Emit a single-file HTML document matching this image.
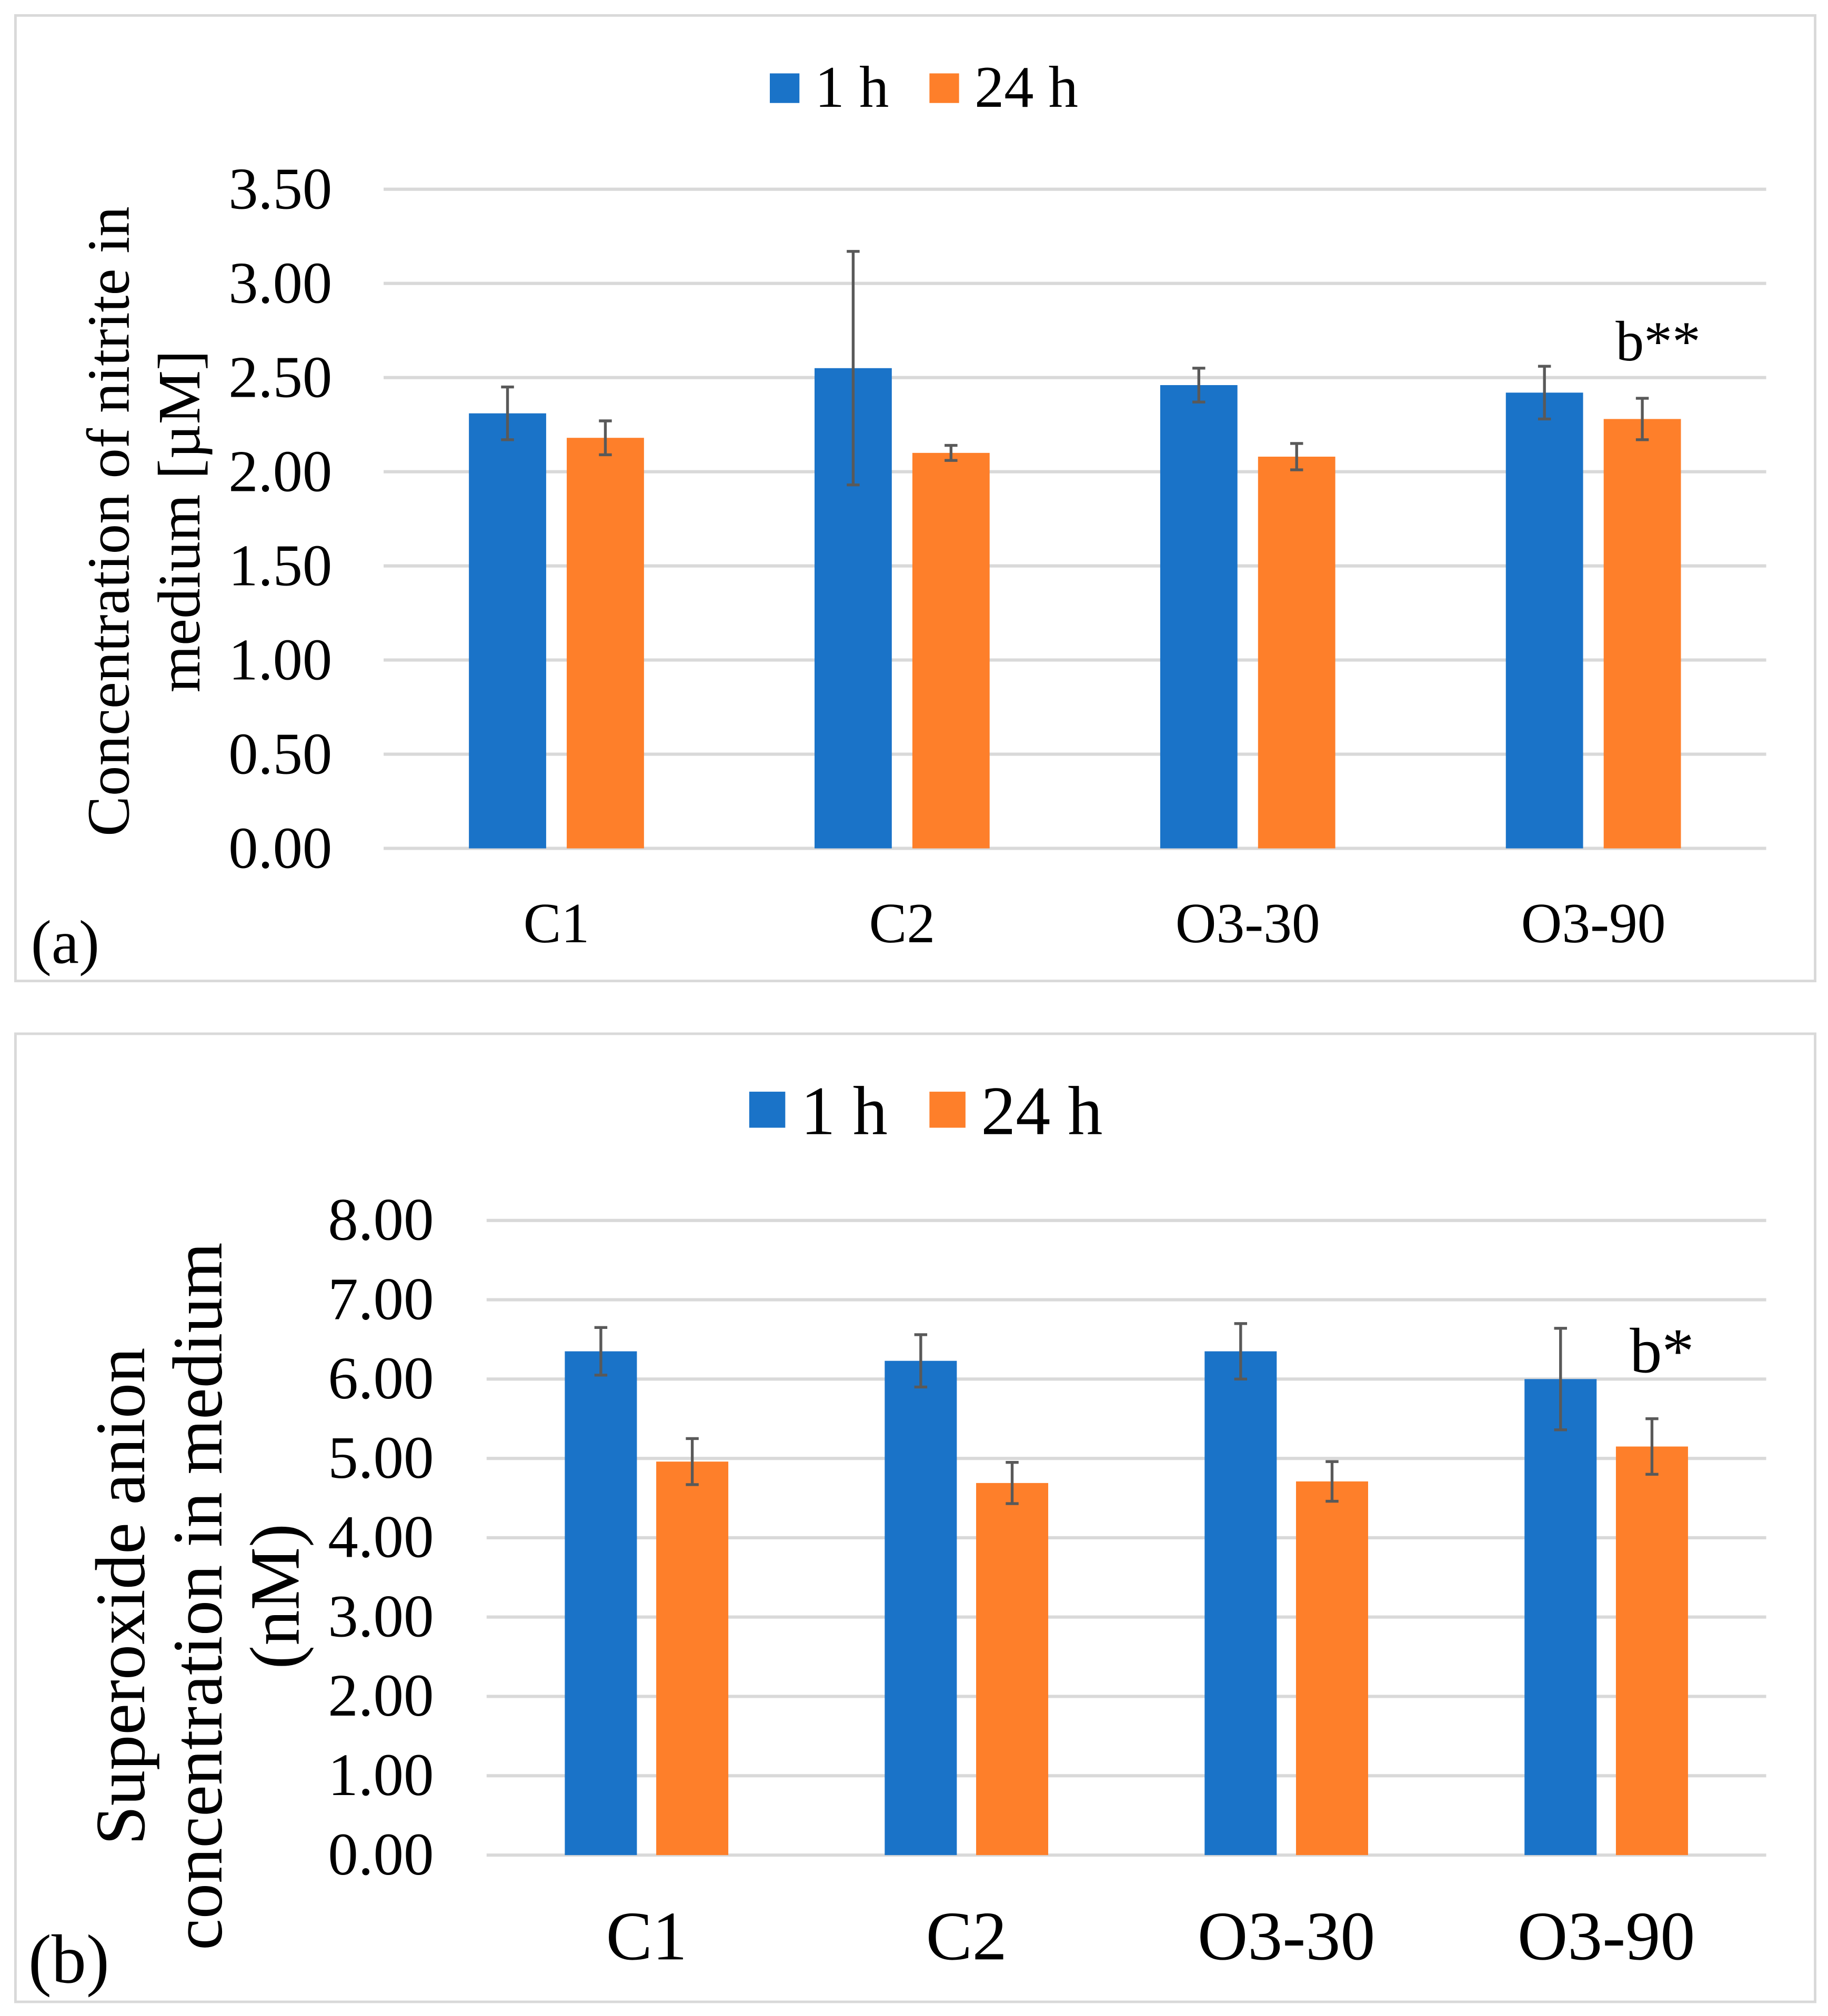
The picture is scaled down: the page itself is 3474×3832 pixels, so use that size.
<!DOCTYPE html>
<html><head><meta charset="utf-8"><style>html,body{margin:0;padding:0;background:#fff}svg{display:block}text{font-family:"Liberation Serif",serif;fill:#000}</style></head>
<body>
<svg id="s" width="3474" height="3832" viewBox="0 0 1420 1566" preserveAspectRatio="none" xmlns="http://www.w3.org/2000/svg"></svg>
<script>
const categories = ["C1","C2","O3-30","O3-90"];
const aTicks = ["0.00","0.50","1.00","1.50","2.00","2.50","3.00","3.50"];
const a1h = [2.31,2.55,2.46,2.42];
const a24h = [2.18,2.10,2.08,2.28];
const a1hErr = [0.14,0.62,0.09,0.14];
const a24hErr = [0.09,0.04,0.07,0.11];
const bTicks = ["0.00","1.00","2.00","3.00","4.00","5.00","6.00","7.00","8.00"];
const b1h = [6.35,6.23,6.35,6.00];
const b24h = [4.96,4.69,4.71,5.15];
const b1hErr = [0.30,0.33,0.35,0.64];
const b24hErr = [0.29,0.26,0.25,0.35];

const svg=document.getElementById('s');
const NS='http://www.w3.org/2000/svg';
function mk(tag,attrs,parent){const e=document.createElementNS(NS,tag);for(const k in attrs)e.setAttribute(k,attrs[k]);(parent||svg).appendChild(e);return e;}
function txt(str,attrs,parent){const e=mk('text',attrs,parent);e.textContent=str;return e;}

function panel(cfg){
  const g=mk('g',{});
  
  
  const fr=mk('rect',{x:cfg.box[0],y:cfg.box[1],width:cfg.box[2],height:cfg.box[3],fill:'#fff',stroke:'#d9d9d9','stroke-width':2},g);
  
  
  const maxV=parseFloat(cfg.ticks[cfg.ticks.length-1]);
  const y=v=>cfg.y0-(v/maxV)*(cfg.y0-cfg.yTop);
  const gw=(cfg.x1-cfg.x0)/categories.length;
  const cx=i=>cfg.x0+gw*(i+0.5);
  cfg.ticks.forEach(t=>{
    const v=parseFloat(t);
    const l=mk('line',{x1:cfg.x0,x2:cfg.x1,y1:y(v),y2:y(v),stroke:'#d9d9d9','stroke-width':2.5},g);
    
    
    const tl=txt(t,{x:cfg.tickX,y:y(v)+15,'text-anchor':'end','font-size':cfg.tickFs},g);
    
    
  });
  const series=[[cfg.s1,cfg.e1,'#1a73c8',-cfg.off],[cfg.s2,cfg.e2,'#fe7f2a',cfg.off]];
  series.forEach((s,si)=>{
    s[0].forEach((v,i)=>{
      const bx=cx(i)+s[3]-cfg.bw/2;
      const r=mk('rect',{x:bx,y:y(v),width:cfg.bw,height:cfg.y0-y(v),fill:s[2]},g);
      
      
      const ex=cx(i)+s[3], hi=y(v+s[1][i]), lo=y(v-s[1][i]);
      const eb=mk('path',{d:`M${ex},${hi}V${lo}M${ex-5},${hi}H${ex+5}M${ex-5},${lo}H${ex+5}`,stroke:'#595959','stroke-width':2.2,fill:'none'},g);
      
      
    });
  });
  categories.forEach((c,i)=>{
    const t=txt(c,{x:cx(i),y:cfg.catY,'text-anchor':'middle','font-size':cfg.catFs},g);
    
    
  });
  const L=cfg.legend;
  const lg=mk('g',{},g);
  
  
  const q1=mk('rect',{x:L.x1,y:L.y,width:L.sq,height:L.sq,fill:'#1a73c8'},lg);
  
  
  const t1=txt('1 h',{x:L.t1,y:L.base,'font-size':L.fs},lg);
  
  
  const q2=mk('rect',{x:L.x2,y:L.y,width:L.sq,height:L.sq,fill:'#fe7f2a'},lg);
  
  
  const t2=txt('24 h',{x:L.t2,y:L.base,'font-size':L.fs},lg);
  
  
  const yt=txt('',{transform:`translate(${cfg.titleX},${cfg.titleY}) rotate(-90)`,'text-anchor':'middle','font-size':cfg.titleFs},g);
  
  
  cfg.title.forEach((line,k)=>{const ts=mk('tspan',{x:0,y:k*cfg.titleLh},yt);ts.textContent=line;});
  const pl=txt(cfg.label,{x:cfg.labelX,y:cfg.labelY,'font-size':cfg.labelFs},g);
  
  
  const an=txt(cfg.ann,{x:cfg.annX,y:cfg.annY,'font-size':cfg.annFs},g);
  
  
}

panel({name:'panel-a-nitrite-chart',box:[12,12,1398,750],ticks:aTicks,y0:659,yTop:147,x0:298,x1:1372,bw:60,off:38,
  s1:a1h,s2:a24h,e1:a1hErr,e2:a24hErr,tickX:258,tickFs:46,catY:732,catFs:44,
  legend:{x1:598,x2:722,y:57,sq:23,t1:633,t2:757,base:83,fs:46},
  title:['Concentration of nitrite in','medium [µM]'],titleX:100,titleY:405,titleLh:55,titleFs:47,
  label:'(a)',labelX:24,labelY:748,labelFs:48,ann:'b**',annX:1255,annY:280,annFs:44});

panel({name:'panel-b-superoxide-chart',box:[12,803,1398,752],ticks:bTicks,y0:1441,yTop:948,x0:378,x1:1372,bw:56,off:35.5,
  s1:b1h,s2:b24h,e1:b1hErr,e2:b24hErr,tickX:337,tickFs:47,catY:1522,catFs:54,
  legend:{x1:582,x2:722,y:848,sq:28,t1:622,t2:762,base:881,fs:54},
  title:['Superoxide anion','concentration in medium','(nM)'],titleX:112,titleY:1240,titleLh:60,titleFs:55,
  label:'(b)',labelX:22,labelY:1540,labelFs:54,ann:'b*',annX:1266,annY:1066,annFs:50});
</script>
</body></html>
